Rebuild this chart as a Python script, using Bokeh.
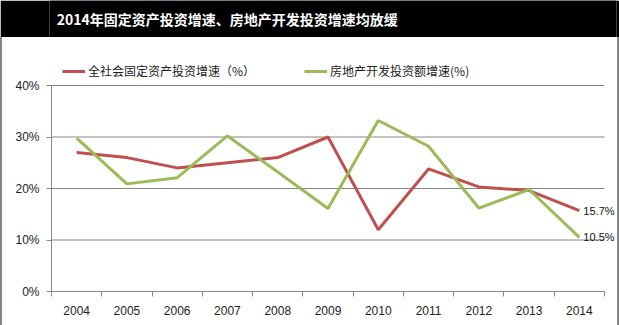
from bokeh.plotting import figure
from bokeh.layouts import column
from bokeh.core.properties import value
from bokeh.models import (Label, LabelSet, Legend, LegendItem,
                          FixedTicker, PrintfTickFormatter, ColumnDataSource, Range1d)
from bokeh.embed import file_html
from bokeh.resources import INLINE

title_text = "2014年固定资产投资增速、房地产开发投资增速均放缓"
years = [2004, 2005, 2006, 2007, 2008, 2009, 2010, 2011, 2012, 2013, 2014]
fixed_asset = [27.0, 26.0, 24.0, 25.0, 26.0, 30.0, 12.0, 23.8, 20.3, 19.6, 15.7]
real_estate = [29.8, 20.9, 22.1, 30.2, 23.2, 16.1, 33.2, 28.2, 16.2, 19.8, 10.5]
series_names = ["全社会固定资产投资增速（%）", "房地产开发投资额增速(%)"]
y_ticks = [0, 10, 20, 30, 40]

RED = "#C0504D"
GREEN = "#9BBB59"
GRID = "#868686"
TICK_FONT = "Liberation Sans"
CJK = "Noto Sans CJK SC"

W = 619
TITLE_H = 37
MAIN_H = 325 - TITLE_H
LEFT, RIGHT, BOTTOM = 49, 3, 34
PLOT_W, PLOT_H = 553, 206          # pixel size of the gridded plot area
FRAME_W = W - LEFT - RIGHT
FRAME_H = MAIN_H - BOTTOM

# ---------- title bar ----------
t = figure(width=W, height=TITLE_H, output_backend="svg", toolbar_location=None,
           x_range=Range1d(0, W), y_range=Range1d(0, TITLE_H), min_border=0)
t.background_fill_color = "black"
t.border_fill_color = "black"
t.outline_line_color = None
t.axis.visible = False
t.grid.visible = False
t.add_layout(Label(x=8, y=TITLE_H / 2, text=title_text, text_color="white",
                   text_font=CJK, text_font_style="bold", text_font_size="14px",
                   text_baseline="middle"))

# ---------- main chart ----------
x0, x1 = years[0] - 0.5, years[-1] + 0.5
x_end = x0 + (x1 - x0) * FRAME_W / PLOT_W
y_end = y_ticks[-1] * FRAME_H / PLOT_H

p = figure(width=W, height=MAIN_H, output_backend="svg", toolbar_location=None,
           x_range=Range1d(x0, x_end), y_range=Range1d(y_ticks[0], y_end),
           min_border_left=LEFT, min_border_right=RIGHT, min_border_top=0,
           min_border_bottom=BOTTOM)
p.outline_line_color = None
p.background_fill_color = "white"
p.border_fill_color = "white"
p.styles = {"border-left": "2px solid #868686", "border-right": "2px solid #868686",
            "box-sizing": "border-box"}

# horizontal gridlines limited to the plot area
p.segment(x0=[x0] * len(y_ticks), x1=[x1] * len(y_ticks), y0=y_ticks, y1=y_ticks,
          line_color=GRID, line_width=1)

r1 = p.line(years, fixed_asset, line_color=RED, line_width=3)
r2 = p.line(years, real_estate, line_color=GREEN, line_width=3)

legend = Legend(items=[LegendItem(label=series_names[0], renderers=[r1]),
                       LegendItem(label=series_names[1], renderers=[r2])],
                orientation="horizontal", location=(11, FRAME_H - 42),
                label_text_font=CJK, label_text_font_size="12px",
                label_text_color="#222", glyph_width=23, glyph_height=14,
                label_height=14, label_standoff=3, spacing=49, padding=0,
                margin=0, border_line_color=None, background_fill_alpha=0)
p.add_layout(legend, "center")

src = ColumnDataSource(dict(x=[years[-1], years[-1]],
                            y=[fixed_asset[-1], real_estate[-1]],
                            t=[f"{fixed_asset[-1]}%", f"{real_estate[-1]}%"]))
p.add_layout(LabelSet(x="x", y="y", text="t", source=src, x_offset=4,
                      text_baseline="middle", text_font=value(TICK_FONT),
                      text_font_size=value("11px"), text_color="#111"))

# axes
p.xaxis.bounds = (x0, x1)
p.xaxis.ticker = FixedTicker(ticks=years,
                             minor_ticks=[y - 0.5 for y in years] + [x1])
p.xaxis.major_tick_line_color = None
p.xaxis.minor_tick_line_color = GRID
p.xaxis.minor_tick_out = 5
p.xaxis.minor_tick_in = 0
p.xaxis.axis_line_color = GRID
p.xaxis.major_label_standoff = 8
p.xaxis.major_label_text_font = TICK_FONT
p.xaxis.major_label_text_font_size = "12px"
p.xaxis.major_label_text_color = "#222"

p.yaxis.bounds = (y_ticks[0], y_ticks[-1])
p.yaxis.ticker = FixedTicker(ticks=y_ticks)
p.yaxis.formatter = PrintfTickFormatter(format="%d%%")
p.yaxis.minor_tick_line_color = None
p.yaxis.major_tick_line_color = GRID
p.yaxis.major_tick_out = 5
p.yaxis.major_tick_in = 0
p.yaxis.axis_line_color = GRID
p.yaxis.major_label_standoff = 7
p.yaxis.major_label_text_font = TICK_FONT
p.yaxis.major_label_text_font_size = "12px"
p.yaxis.major_label_text_color = "#222"

p.xgrid.visible = False
p.ygrid.visible = False

layout = column(t, p, spacing=0)
open("out.html", "w").write(file_html(layout, INLINE))
